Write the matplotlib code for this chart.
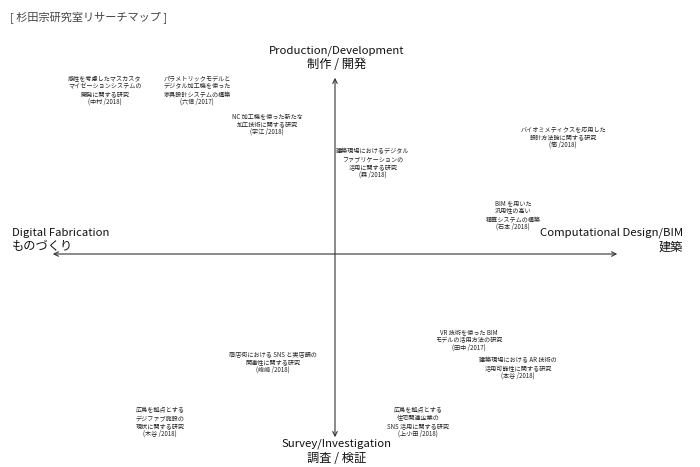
import matplotlib
matplotlib.use("Agg")
import matplotlib.pyplot as plt

plt.rcParams['font.family'] = ['Noto Sans CJK JP', 'DejaVu Sans']

# research topics: label lines, map position (x right = Computational Design, y up = Production)
topics = [
    "感性を考慮したマスカスタ\nマイゼーションシステムの\n開発に関する研究\n(中村 /2018)",
    "パラメトリックモデルと\nデジタル加工機を使った\n家具設計システムの構築\n(六信 /2017)",
    "NC 加工機を使った新たな\n加工技術に関する研究\n(宇江 /2018)",
    "建築現場におけるデジタル\nファブリケーションの\n活用に関する研究\n(森 /2018)",
    "バイオミメティクスを応用した\n設計方法論に関する研究\n(筒 /2018)",
    "BIM を用いた\n汎用性の高い\n積算システムの構築\n(石本 /2018)",
    "VR 技術を使った BIM\nモデルの活用方法の研究\n(田中 /2017)",
    "建築現場における AR 技術の\n活用可能性に関する研究\n(本谷 /2018)",
    "商店街における SNS と実店舗の\n関連性に関する研究\n(峰崎 /2018)",
    "広島を拠点とする\nデジファブ施設の\n現状に関する研究\n(木谷 /2018)",
    "広島を拠点とする\n住宅関連企業の\nSNS 活用に関する研究\n(上小田 /2018)",
]
pos_x = [-230, -138, -68, 38, 228, 178, 134, 183, -62, -175, 83]
pos_y = [164, 164, 130, 91, 117, 39, -86, -114, -108, -168, -168]

# axis labels: (english, japanese)
axis_top = ("Production/Development", "制作 / 開発")
axis_bottom = ("Survey/Investigation", "調査 / 検証")
axis_left = ("Digital Fabrication", "ものづくり")
axis_right = ("Computational Design/BIM", "建築")
title = "[ 杉田宗研究室リサーチマップ ]"

fig = plt.figure(figsize=(7, 4.67), dpi=100)
ax = fig.add_axes([0, 0, 1, 1])
ax.set_xlim(-335, 365)
ax.set_ylim(-213, 254)
ax.axis('off')

arrow = dict(arrowstyle='<->', color='#333333', lw=0.8, mutation_scale=8)
ax.annotate('', xy=(-285, 0), xytext=(285, 0), arrowprops=arrow)
ax.annotate('', xy=(0, 179), xytext=(0, -186), arrowprops=arrow)

for t, x, y in zip(topics, pos_x, pos_y):
    ax.text(x, y, t, ha='center', va='center', fontsize=4.4,
            linespacing=1.0, color='#222222')


def axis_label(labels, x, y, ha):
    en, jp = labels
    ax.text(x, y + 7, en, ha=ha, va='center', fontsize=8.2, color='#111111')
    ax.text(x, y - 7, jp, ha=ha, va='center', fontsize=8.8, color='#111111')


axis_label(axis_top, 2, 196, 'center')
axis_label(axis_bottom, 2, -197, 'center')
axis_label(axis_left, -323, 14, 'left')
axis_label(axis_right, 348, 14, 'right')

fig.text(10 / 700, 1 - 17 / 467, title, ha='left', va='center', fontsize=8,
         color='#444444')

fig.savefig("out.png", dpi=100)
